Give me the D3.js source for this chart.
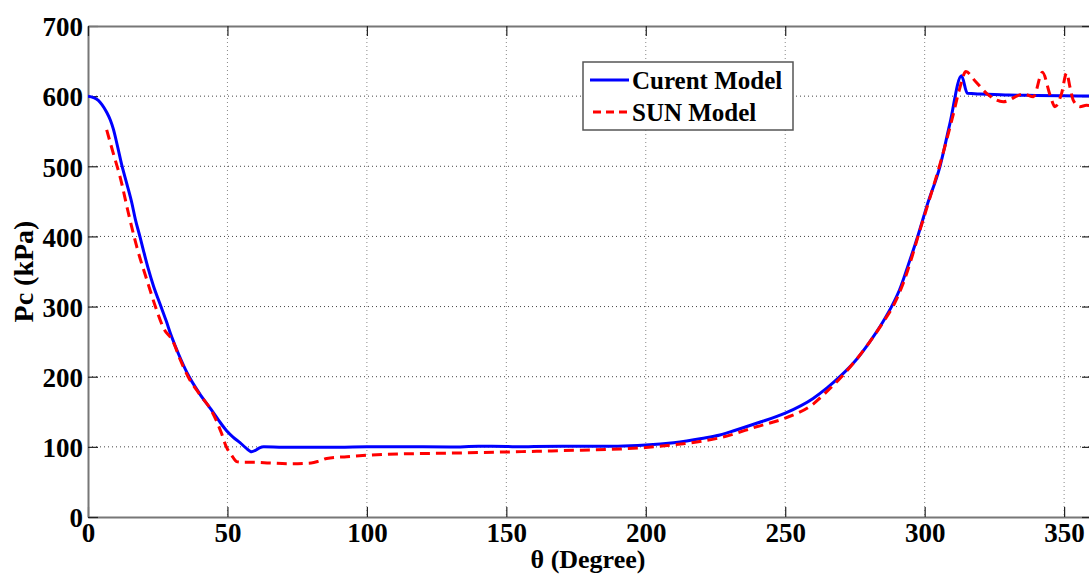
<!DOCTYPE html>
<html>
<head>
<meta charset="utf-8">
<script src="https://cdn.jsdelivr.net/npm/d3@7"></script>
<style>
  body { margin: 0; background: #fff; }
  text { font-family: "Liberation Serif", "Times New Roman", serif; font-weight: bold; }
</style>
</head>
<body>
<div id="chart"></div>
<script>
// data
var curentTheta = [0, 2, 3.7, 5, 6.7, 8, 9.1, 10.5, 12.1, 14, 15.7, 17, 18.6, 20, 21.6, 23.5, 25.8, 28, 29.9, 32.5, 35.6, 40, 44.2, 47, 49.7, 52, 54.5, 56.5, 58.7, 60, 61.5, 63, 70, 80, 90, 100, 110, 120, 130, 140, 150, 155, 160, 170, 180, 190, 200, 210, 220, 226.6, 230, 240, 250, 260, 265, 269.6, 275, 280, 285, 288.4, 291, 294, 297.5, 301, 305.5, 309, 313.2, 315.3, 320, 325, 330, 340, 350, 360];
var curentPc = [600, 598, 594, 588, 577, 566, 553, 530, 502, 474, 448, 424, 400, 378, 354, 329, 304, 280, 258, 232, 205, 176, 153, 137, 123, 114, 106, 99, 93, 95, 98.5, 100, 99.5, 99.5, 99.5, 100, 100, 100, 99.8, 100.8, 100.5, 100, 100.6, 101, 101, 101, 102.5, 106, 112, 117, 121, 134, 148, 169, 184, 200, 222, 248, 278, 302, 324, 358, 400, 446, 500, 560, 629, 604, 603, 602.5, 601.5, 601, 600.5, 600];

var sunTheta = [6.7, 9.1, 11.5, 14.5, 17.5, 21.1, 24.6, 27, 30.5, 33, 35.9, 40, 44.5, 47.8, 49.6, 51.5, 53.3, 55, 60, 65, 72, 80, 83, 85.6, 92.8, 100, 111, 126, 150, 169, 191, 200, 210, 220, 226.6, 240, 250, 260, 264.7, 270.2, 275, 280, 285, 289, 292, 295, 298, 301.5, 306, 310, 312.5, 314.8, 318, 322.2, 328.2, 335.4, 339, 342.2, 345, 346.7, 349.1, 350.9, 352.1, 353.3, 355.7, 358, 360];
var sunPc = [552, 518, 485, 433, 385, 338, 295, 270, 250, 225, 200, 175, 150, 120, 100, 88, 79, 78, 78, 77, 76, 77, 80, 83.5, 86, 88, 89.8, 90.8, 92.7, 94.5, 97, 99, 103, 108, 113, 129, 141, 161, 178, 200, 222, 248, 277, 303, 330, 365, 405, 450, 510, 570, 610, 635, 622, 604, 592, 603, 599, 634, 601, 585, 604, 633, 613, 594, 585, 587, 586];

var xTicks = [0, 50, 100, 150, 200, 250, 300, 350];
var yTicks = [0, 100, 200, 300, 400, 500, 600, 700];
var seriesNames = ["Curent Model", "SUN Model"];

// plot box
var plotLeft = 88, plotRight = 1092, plotTop = 26, plotBottom = 517;

var svg = d3.select("#chart")
  .append("svg")
    .attr("width", 1089)
    .attr("height", 576);

var x = d3.scaleLinear().domain([0, 360]).range([plotLeft, plotRight]);
var y = d3.scaleLinear().domain([0, 700]).range([plotBottom, plotTop]);

// dotted grid
svg.append("g")
  .selectAll("line")
  .data(xTicks.slice(1))
  .enter().append("line")
    .attr("x1", function(d) { return x(d); })
    .attr("x2", function(d) { return x(d); })
    .attr("y1", plotTop).attr("y2", plotBottom)
    .attr("stroke", "#888")
    .attr("stroke-dasharray", "1,3");
svg.append("g")
  .selectAll("line")
  .data(yTicks.slice(1, -1))
  .enter().append("line")
    .attr("y1", function(d) { return y(d); })
    .attr("y2", function(d) { return y(d); })
    .attr("x1", plotLeft).attr("x2", plotRight)
    .attr("stroke", "#444")
    .attr("stroke-dasharray", "1,3");

// axes, ticks pointing inward
var xAxis = svg.append("g")
    .attr("transform", "translate(0," + plotBottom + ")")
    .call(d3.axisBottom(x).tickValues(xTicks).tickSizeInner(-10).tickSizeOuter(0).tickPadding(16));
var yAxis = svg.append("g")
    .attr("transform", "translate(" + plotLeft + ",0)")
    .call(d3.axisLeft(y).tickValues(yTicks).tickSizeInner(-10).tickSizeOuter(0).tickPadding(16));
svg.append("g")
    .attr("transform", "translate(0," + plotTop + ")")
    .call(d3.axisTop(x).tickValues(xTicks).tickSizeInner(-10).tickSizeOuter(0).tickFormat(""));
svg.append("g")
    .attr("transform", "translate(" + plotRight + ",0)")
    .call(d3.axisRight(y).tickValues(yTicks).tickSizeInner(-10).tickSizeOuter(0).tickFormat(""));

svg.selectAll(".domain").attr("stroke", "#777").attr("stroke-width", 2);
svg.selectAll(".tick line").attr("stroke", "#222").attr("stroke-width", 1.2);
svg.selectAll(".tick text")
    .attr("font-size", 27)
    .attr("font-family", "Liberation Serif, serif")
    .attr("font-weight", "bold")
    .attr("fill", "#000");
yAxis.selectAll(".tick text").attr("x", -5).attr("dy", "0.36em");
xAxis.selectAll(".tick text").attr("y", 6);

// clip lines to the plot box
svg.append("clipPath").attr("id", "clip")
  .append("rect")
    .attr("x", plotLeft).attr("y", plotTop)
    .attr("width", plotRight - plotLeft).attr("height", plotBottom - plotTop);

var line = d3.line()
    .curve(d3.curveMonotoneX)
    .x(function(d) { return x(d[0]); })
    .y(function(d) { return y(d[1]); });

var sunData = d3.zip(sunTheta, sunPc);
var curentData = d3.zip(curentTheta, curentPc);

svg.append("path")
    .datum(curentData)
    .attr("clip-path", "url(#clip)")
    .attr("fill", "none")
    .attr("stroke", "#0000ff")
    .attr("stroke-width", 3)
    .attr("d", line);

svg.append("path")
    .datum(sunData)
    .attr("clip-path", "url(#clip)")
    .attr("fill", "none")
    .attr("stroke", "#ff0000")
    .attr("stroke-width", 3)
    .attr("stroke-dasharray", "10,6")
    .attr("d", line);

// axis titles
svg.append("text")
    .attr("text-anchor", "middle")
    .attr("transform", "translate(33," + ((plotTop + plotBottom) / 2) + ") rotate(-90)")
    .attr("font-size", 28)
    .text("Pc (kPa)");
svg.append("text")
    .attr("text-anchor", "middle")
    .attr("x", (plotLeft + plotRight) / 2 - 2)
    .attr("y", 568)
    .attr("font-size", 26)
    .text("θ (Degree)");

// legend
var legend = svg.append("g");
legend.append("rect")
    .attr("x", 583).attr("y", 62)
    .attr("width", 210).attr("height", 68)
    .attr("fill", "#fff")
    .attr("stroke", "#555")
    .attr("stroke-width", 1.5);
legend.append("line")
    .attr("x1", 590).attr("x2", 629)
    .attr("y1", 80).attr("y2", 80)
    .attr("stroke", "#0000ff").attr("stroke-width", 3);
legend.append("line")
    .attr("x1", 593).attr("x2", 629)
    .attr("y1", 112).attr("y2", 112)
    .attr("stroke", "#ff0000").attr("stroke-width", 3)
    .attr("stroke-dasharray", "8,5");
legend.selectAll("text.lab")
  .data(seriesNames)
  .enter().append("text")
    .attr("class", "lab")
    .attr("x", 632)
    .attr("y", function(d, i) { return 89 + i * 32; })
    .attr("font-size", 25)
    .text(function(d) { return d; });
</script>
</body>
</html>
